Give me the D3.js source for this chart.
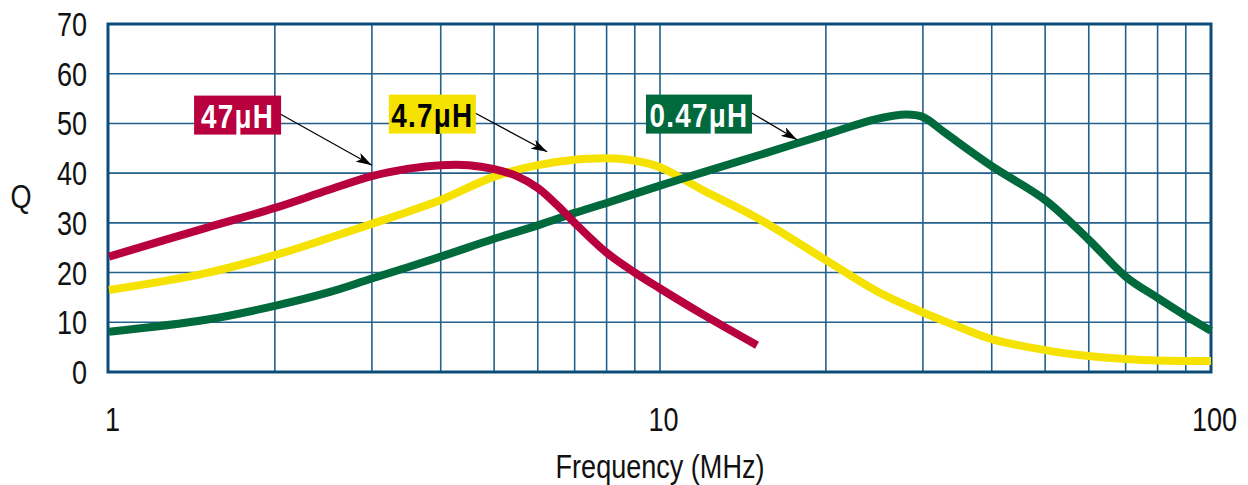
<!DOCTYPE html>
<html>
<head>
<meta charset="utf-8">
<script src="https://cdn.jsdelivr.net/npm/d3@7"></script>
<style>
  body { margin: 0; background: #fff; }
  svg text { font-family: "Liberation Sans", Arial, sans-serif; fill: #111; }
</style>
</head>
<body>
<svg width="1248" height="485"></svg>
<script>
// data
var yTicks = [0, 10, 20, 30, 40, 50, 60, 70];
var xLabels = [1, 10, 100];

var freq47 = [1, 1.5, 2, 2.5, 3, 3.5, 4, 4.5, 5, 5.5, 6, 6.5, 7, 8, 9, 10, 12, 15];
var q47    = [23.2, 29.0, 33.0, 36.6, 39.4, 40.9, 41.6, 41.6, 40.8, 39.4, 37.0, 33.6, 30.0, 24.0, 20.0, 16.8, 11.5, 5.4];

var freq4_7 = [1, 1.5, 2, 2.5, 3, 3.5, 4, 5, 6, 7, 8, 9, 10, 12, 15, 20, 25, 30, 35, 40, 50, 60, 70, 80, 100];
var q4_7    = [16.5, 19.9, 23.5, 26.9, 29.8, 32.3, 34.6, 39.3, 41.6, 42.7, 43.0, 42.5, 41.2, 36.5, 31.0, 22.5, 16.0, 12.0, 9.0, 6.6, 4.4, 3.2, 2.6, 2.3, 2.2];

var freq047 = [1, 1.5, 2, 2.5, 3, 4, 5, 6, 7, 8, 10, 12, 15, 20, 25, 28, 30, 33, 40, 50, 60, 70, 80, 90, 100];
var q047    = [8.1, 10.5, 13.3, 16.0, 18.8, 23.2, 26.8, 29.5, 32.0, 34.0, 37.5, 40.2, 43.5, 47.8, 51.0, 51.8, 51.3, 48.0, 41.4, 34.6, 26.6, 19.2, 14.9, 11.3, 8.3];

var labelNames = ["47\u03bcH", "4.7\u03bcH", "0.47\u03bcH"];

var svg = d3.select("svg");

var x = d3.scaleLog().domain([1, 100]).range([109, 1211]);
var y = d3.scaleLinear().domain([0, 70]).range([372, 24]);

var gridColor = "#23608c";
var narrow = "scale(0.82,1)";

// vertical grid
svg.append("g")
  .selectAll("line")
  .data(x.ticks().filter(function(d) { return d > 1 && d < 100; }))
  .enter().append("line")
  .attr("x1", function(d) { return x(d); })
  .attr("x2", function(d) { return x(d); })
  .attr("y1", y(70))
  .attr("y2", y(0))
  .attr("stroke", gridColor)
  .attr("stroke-width", 1.6);

// horizontal grid
svg.append("g")
  .selectAll("line")
  .data(yTicks.filter(function(d) { return d > 0 && d < 70; }))
  .enter().append("line")
  .attr("x1", x(1))
  .attr("x2", x(100))
  .attr("y1", function(d) { return y(d); })
  .attr("y2", function(d) { return y(d); })
  .attr("stroke", gridColor)
  .attr("stroke-width", 1.6);

// frame
svg.append("rect")
  .attr("x", x(1) - 1)
  .attr("y", y(70))
  .attr("width", x(100) - x(1) + 1)
  .attr("height", y(0) - y(70))
  .attr("fill", "none")
  .attr("stroke", "#0c4c7a")
  .attr("stroke-width", 3);

// y axis labels
var yAxis = d3.axisLeft(y).tickValues(yTicks).tickSize(0).tickPadding(0);
var gy = svg.append("g").attr("transform", "translate(87,0)").call(yAxis);
gy.select(".domain").remove();
gy.selectAll("text")
  .attr("font-size", 33)
  .attr("dy", "0.35em")
  .attr("font-family", null)
  .attr("transform", narrow);

// x axis labels
var xAxis = d3.axisBottom(x).tickValues(xLabels).tickSize(0).tickPadding(0)
  .tickFormat(d3.format("d"));
var gx = svg.append("g").attr("transform", "translate(3,431)").call(xAxis);
gx.select(".domain").remove();
gx.selectAll("text")
  .attr("font-size", 33)
  .attr("dy", 0)
  .attr("y", 0)
  .attr("font-family", null)
  .attr("transform", narrow);

svg.append("text")
  .attr("transform", "translate(660,478) " + narrow)
  .attr("text-anchor", "middle")
  .attr("font-size", 33)
  .text("Frequency (MHz)");

svg.append("text")
  .attr("transform", "translate(21,208) " + narrow)
  .attr("text-anchor", "middle")
  .attr("font-size", 33)
  .text("Q");

// curves
var line = d3.line()
  .x(function(d) { return x(d[0]); })
  .y(function(d) { return y(d[1]); })
  .curve(d3.curveCatmullRom.alpha(0.5));

var series = [
  { f: freq4_7, q: q4_7, color: "#f5e200" },
  { f: freq047, q: q047, color: "#006a3d" },
  { f: freq47,  q: q47,  color: "#b8003f" }
];

svg.append("g")
  .selectAll("path")
  .data(series)
  .enter().append("path")
  .attr("d", function(s) { return line(d3.zip(s.f, s.q)); })
  .attr("fill", "none")
  .attr("stroke", function(s) { return s.color; })
  .attr("stroke-width", 8);

// arrow marker
svg.append("defs").append("marker")
  .attr("id", "arr")
  .attr("viewBox", "0 0 16 10")
  .attr("refX", 16).attr("refY", 5)
  .attr("markerWidth", 16).attr("markerHeight", 10)
  .attr("markerUnits", "userSpaceOnUse")
  .attr("orient", "auto")
  .append("path")
  .attr("d", "M0,0 L16,5 L0,10 L4,5 Z")
  .attr("fill", "#000");

// labels with arrows: box corner and arrow ends given in (freq, Q)
var labels = [
  { name: labelNames[0], bg: "#b8003f", fg: "#fff", bx: 1.427, by: 55.6, bw: 87, ax0: 2.03, ay0: 52.1, ax1: 3.0, ay1: 41.6 },
  { name: labelNames[1], bg: "#f5e200", fg: "#000", bx: 3.22, by: 55.8, bw: 87, ax0: 4.58, ay0: 52.3, ax1: 6.24, ay1: 44.3 },
  { name: labelNames[2], bg: "#006a3d", fg: "#fff", bx: 9.43, by: 55.8, bw: 106, ax0: 14.57, ay0: 52.3, ax1: 17.73, ay1: 46.7 }
];

var lg = svg.append("g").selectAll("g").data(labels).enter().append("g");

lg.append("line")
  .attr("x1", function(d) { return x(d.ax0); })
  .attr("y1", function(d) { return y(d.ay0); })
  .attr("x2", function(d) { return x(d.ax1); })
  .attr("y2", function(d) { return y(d.ay1); })
  .attr("stroke", "#000")
  .attr("stroke-width", 1.2)
  .attr("marker-end", "url(#arr)");

lg.append("rect")
  .attr("x", function(d) { return x(d.bx); })
  .attr("y", function(d) { return y(d.by); })
  .attr("width", function(d) { return d.bw; })
  .attr("height", 39)
  .attr("fill", function(d) { return d.bg; });

lg.append("text")
  .attr("transform", function(d) {
    return "translate(" + (x(d.bx) + d.bw / 2) + "," + (y(d.by) + 32) + ") " + narrow;
  })
  .attr("text-anchor", "middle")
  .attr("font-size", 34)
  .attr("font-weight", "bold")
  .attr("letter-spacing", 1.5)
  .style("fill", function(d) { return d.fg; })
  .text(function(d) { return d.name; });
</script>
</body>
</html>
